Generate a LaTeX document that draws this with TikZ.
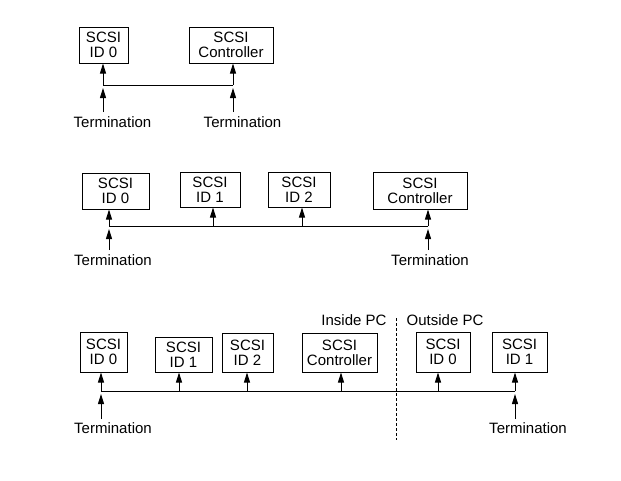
\documentclass[tikz,border=0pt]{standalone}
\usepackage{fontspec}
\setmainfont{Liberation Sans}
\usetikzlibrary{arrows.meta}

\begin{document}
\begin{tikzpicture}[x=1pt, y=-1pt,
  box/.style={draw, line width=1pt, align=center, inner sep=0pt, font=\fontsize{15}{15}\selectfont},
  lbl/.style={inner sep=0pt, font=\fontsize{15}{15}\selectfont},
  arr/.style={line width=1pt, -{Triangle[width=6pt, length=10pt]}},
  bus/.style={line width=1pt}]
\useasboundingbox (0,0) rectangle (621,480);

% first bus: one disk and the controller
\node[box, minimum width=49pt, minimum height=36pt] (a0) at (103.5,45) {SCSI\\ID 0};
\node[box, minimum width=84pt, minimum height=36pt] (ac) at (231,45) {SCSI\\Controller};
\coordinate (ka0) at (103,85);
\coordinate (kac) at (233,85);
\draw[bus] (ka0) -- (kac);
\draw[arr] (ka0) -- (ka0 |- a0.south);
\draw[arr] (kac) -- (kac |- ac.south);
\coordinate (ea0) at (103,112);
\coordinate (eac) at (233,112);
\draw[arr, shorten >=3pt] (ea0) -- (ka0);
\draw[arr, shorten >=3pt] (eac) -- (kac);
\node[lbl] (ta0) at (112.5,122) {Termination};
\node[lbl] (tac) at (242.5,122) {Termination};

% second bus: three disks and the controller
\node[box, minimum width=67pt, minimum height=36pt] (b0) at (115.5,191) {SCSI\\ID 0};
\node[box, minimum width=60pt, minimum height=35pt] (b1) at (210,189.5) {SCSI\\ID 1};
\node[box, minimum width=62pt, minimum height=35pt] (b2) at (299,189.5) {SCSI\\ID 2};
\node[box, minimum width=94pt, minimum height=37pt] (bc) at (420,190.5) {SCSI\\Controller};
\coordinate (kb0) at (109,226);
\coordinate (kb1) at (213,226);
\coordinate (kb2) at (302,226);
\coordinate (kbc) at (428,226);
\draw[bus] (kb0) -- (kbc);
\draw[arr] (kb0) -- (kb0 |- b0.south);
\draw[arr] (kb1) -- (kb1 |- b1.south);
\draw[arr] (kb2) -- (kb2 |- b2.south);
\draw[arr] (kbc) -- (kbc |- bc.south);
\coordinate (eb0) at (109,250);
\coordinate (ebc) at (428,250);
\draw[arr, shorten >=3pt] (eb0) -- (kb0);
\draw[arr, shorten >=3pt] (ebc) -- (kbc);
\node[lbl] (tb0) at (113,260) {Termination};
\node[lbl] (tbc) at (430,260) {Termination};

% third bus: inside and outside the PC
\node[box, minimum width=47pt, minimum height=40pt] (c0) at (103.5,352) {SCSI\\ID 0};
\node[box, minimum width=57pt, minimum height=35pt] (c1) at (183.5,354.5) {SCSI\\ID 1};
\node[box, minimum width=51pt, minimum height=39pt] (c2) at (247.5,352.5) {SCSI\\ID 2};
\node[box, minimum width=75pt, minimum height=39pt] (cc) at (339.5,352.5) {SCSI\\Controller};
\node[box, minimum width=54pt, minimum height=40pt] (co0) at (443,352) {SCSI\\ID 0};
\node[box, minimum width=55pt, minimum height=40pt] (co1) at (519.5,352) {SCSI\\ID 1};
\coordinate (kc0) at (101,391);
\coordinate (kc1) at (179,391);
\coordinate (kc2) at (247,391);
\coordinate (kcc) at (341,391);
\coordinate (kco0) at (438,391);
\coordinate (kco1) at (515,391);
\draw[bus] (kc0) -- (kco1);
\draw[arr] (kc0) -- (kc0 |- c0.south);
\draw[arr] (kc1) -- (kc1 |- c1.south);
\draw[arr] (kc2) -- (kc2 |- c2.south);
\draw[arr] (kcc) -- (kcc |- cc.south);
\draw[arr] (kco0) -- (kco0 |- co0.south);
\draw[arr] (kco1) -- (kco1 |- co1.south);
\coordinate (ec0) at (101,419);
\coordinate (eco1) at (515,419);
\draw[arr, shorten >=3pt] (ec0) -- (kc0);
\draw[arr, shorten >=3pt] (eco1) -- (kco1);
\node[lbl] (tc0) at (113,428) {Termination};
\node[lbl] (tco1) at (528,428) {Termination};
\node[lbl] (in) at (354,320) {Inside PC};
\node[lbl] (out) at (445,320) {Outside PC};
\coordinate (wtop) at (396,318);
\coordinate (wbot) at (396,440);
\draw[line width=1pt, dash pattern=on 3pt off 2pt] (wtop) -- (wbot);
\end{tikzpicture}
\end{document}
